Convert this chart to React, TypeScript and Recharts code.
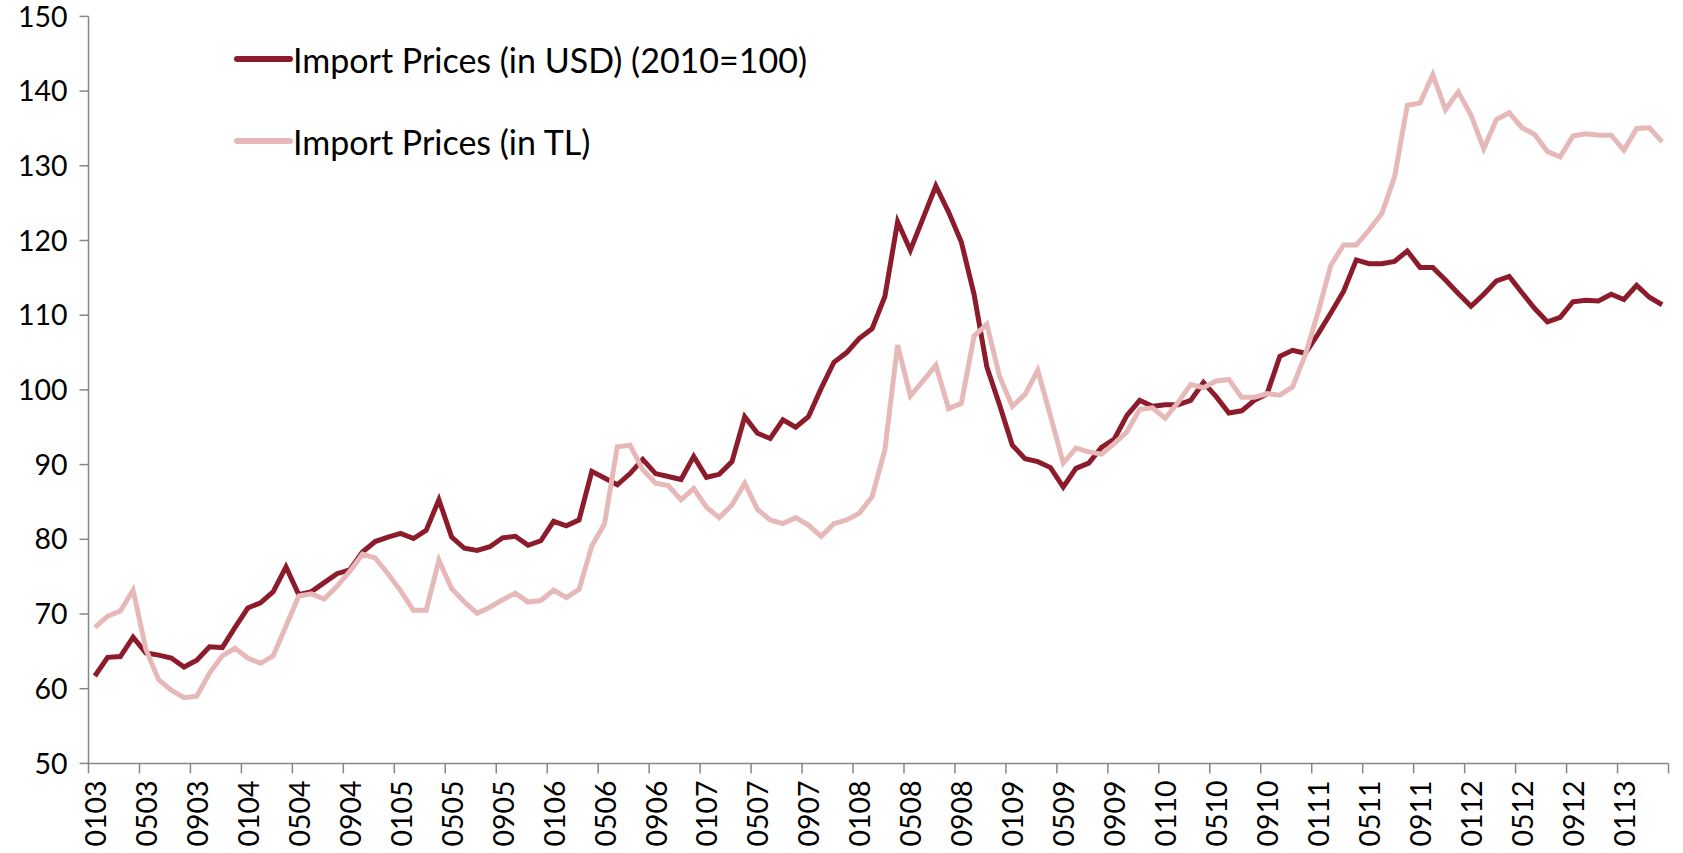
import React from "react";
import { LineChart, Line, XAxis, YAxis, Legend } from "recharts";

// month labels MMYY, Jan 2003 .. Apr 2013
const years = ["03", "04", "05", "06", "07", "08", "09", "10", "11", "12", "13"];
const months = ["01", "02", "03", "04", "05", "06", "07", "08", "09", "10", "11", "12"];
const categories: string[] = [];
years.forEach((y) => months.forEach((m) => categories.push(m + y)));
categories.length = 124;

const usdPrices = [
  61.7, 64.2, 64.3, 66.9, 64.8, 64.5, 64.1, 62.9, 63.8, 65.6, 65.5, 68.2,
  70.8, 71.5, 73.0, 76.3, 72.6, 73.0, 74.2, 75.4, 75.9, 78.3, 79.7, 80.3,
  80.8, 80.1, 81.2, 85.3, 80.3, 78.8, 78.5, 79.0, 80.2, 80.4, 79.2, 79.8,
  82.4, 81.8, 82.6, 89.1, 88.2, 87.3, 88.8, 90.7, 88.8, 88.4, 88.0, 91.1,
  88.3, 88.7, 90.4, 96.4, 94.2, 93.5, 96.0, 95.0, 96.4, 100.2, 103.7, 105.0,
  106.9, 108.2, 112.5, 122.5, 118.7, 123.0, 127.3, 123.8, 119.8, 112.8, 103.1, 98.0,
  92.6, 90.8, 90.4, 89.6, 87.0, 89.5, 90.2, 92.3, 93.4, 96.6, 98.6, 97.8,
  98.0, 98.0, 98.6, 101.0, 99.1, 96.9, 97.2, 98.6, 99.5, 104.5, 105.3, 104.9,
  107.5, 110.3, 113.2, 117.4, 116.9, 116.9, 117.2, 118.6, 116.4, 116.4, 114.7, 112.9,
  111.2, 112.8, 114.6, 115.2, 113.0, 110.9, 109.1, 109.7, 111.8, 112.0, 111.9, 112.8,
  112.1, 114.0, 112.4, 111.4,
];

const tlPrices = [
  68.2, 69.7, 70.4, 73.2, 65.3, 61.2, 59.8, 58.8, 59.0, 62.1, 64.4, 65.4,
  64.1, 63.4, 64.4, 68.4, 72.4, 72.7, 72.0, 73.7, 75.7, 78.0, 77.5, 75.4,
  73.1, 70.5, 70.5, 77.2, 73.4, 71.6, 70.1, 70.9, 71.9, 72.8, 71.6, 71.8,
  73.2, 72.2, 73.3, 79.1, 82.1, 92.4, 92.6, 89.3, 87.5, 87.2, 85.3, 86.8,
  84.3, 82.9, 84.6, 87.5, 84.0, 82.6, 82.1, 82.9, 81.9, 80.4, 82.1, 82.6,
  83.5, 85.7, 92.0, 106.0, 99.2, 101.2, 103.3, 97.5, 98.2, 107.2, 108.8, 101.8,
  97.8, 99.4, 102.6, 96.5, 90.2, 92.2, 91.7, 91.4, 92.8, 94.4, 97.4, 97.6,
  96.2, 98.3, 100.7, 100.3, 101.2, 101.4, 99.0, 99.0, 99.5, 99.3, 100.4, 104.7,
  110.4, 116.7, 119.4, 119.4, 121.4, 123.6, 128.5, 138.1, 138.4, 142.2, 137.5, 139.9,
  136.8, 132.3, 136.2, 137.1, 135.1, 134.2, 131.9, 131.2, 134.0, 134.3, 134.1, 134.1,
  132.1, 135.0, 135.1, 133.2,
];

const yTicks = [50, 60, 70, 80, 90, 100, 110, 120, 130, 140, 150];

const seriesNames = ["Import Prices (in USD) (2010=100)", "Import Prices (in TL)"];

const data = categories.map((label, i) => ({
  label,
  usd: usdPrices[i],
  tl: tlPrices[i],
}));

const W = 1683;
const H = 853;
const PLOT_LEFT = 88.5;
const PLOT_RIGHT = 1668.5;
const PLOT_TOP = 16.4;
const PLOT_BOTTOM = 763.4;
const STEP = (PLOT_RIGHT - PLOT_LEFT) / categories.length;
const AXIS = "#868686";
const FONT = "Lato, 'Open Sans', sans-serif";
const TICK_FONT = 28.5;
const LEGEND_FONT = 34;
const X_TICK_SIZE = 10;
const X_TICK_MARGIN = 7;

const USD_COLOR = "#8c1c2c";
const TL_COLOR = "#e6b9b8";

const XTick = (props: any) => {
  const { x, y, payload } = props;
  const idx = categories.indexOf(payload.value);
  const axisY = y - X_TICK_SIZE - X_TICK_MARGIN;
  const tx = x - STEP / 2;
  const isLast = idx === categories.length - 4;
  return (
    <g>
      <line x1={tx} x2={tx} y1={axisY} y2={axisY + X_TICK_SIZE} stroke={AXIS} strokeWidth={1.5} />
      {isLast && (
        <line
          x1={tx + 4 * STEP}
          x2={tx + 4 * STEP}
          y1={axisY}
          y2={axisY + X_TICK_SIZE}
          stroke={AXIS}
          strokeWidth={1.5}
        />
      )}
      <text
        x={x}
        y={y}
        transform={`rotate(-90, ${x}, ${y})`}
        textAnchor="end"
        dominantBaseline="central"
        fontSize={TICK_FONT}
        fontFamily={FONT}
        fill="#000"
      >
        {payload.value}
      </text>
    </g>
  );
};

const renderLegend = (props: any) => {
  const items = [...(props.payload || [])].sort(
    (a: any, b: any) => seriesNames.indexOf(a.value) - seriesNames.indexOf(b.value)
  );
  return (
    <div style={{ fontFamily: FONT, fontSize: LEGEND_FONT, color: "#000" }}>
      {items.map((p: any) => (
        <div key={p.value} style={{ display: "flex", alignItems: "center", height: 82 }}>
          <svg width={59} height={8} style={{ display: "block" }}>
            <line x1={3} y1={4} x2={56} y2={4} stroke={p.color} strokeWidth={6} strokeLinecap="round" />
          </svg>
          <span style={{ whiteSpace: "nowrap" }}>{p.value}</span>
        </div>
      ))}
    </div>
  );
};

export default function App() {
  return (
    <div style={{ position: "absolute", left: 0, top: 0, width: W, height: H, background: "#fff" }}>
      <LineChart
        width={W}
        height={H}
        data={data}
        margin={{ top: PLOT_TOP, right: W - PLOT_RIGHT, left: 0, bottom: 0 }}
      >
        <XAxis
          dataKey="label"
          interval={3}
          padding={{ left: STEP / 2, right: STEP / 2 }}
          height={H - PLOT_BOTTOM}
          axisLine={{ stroke: AXIS, strokeWidth: 1.5 }}
          tickLine={false}
          tickSize={X_TICK_SIZE}
          tickMargin={X_TICK_MARGIN}
          tick={<XTick />}
        />
        <YAxis
          domain={[50, 150]}
          ticks={yTicks}
          width={PLOT_LEFT}
          axisLine={{ stroke: AXIS, strokeWidth: 1.5 }}
          tickLine={{ stroke: AXIS, strokeWidth: 1.5 }}
          tickSize={9}
          tickMargin={12}
          tick={{ fill: "#000", fontSize: TICK_FONT, fontFamily: FONT }}
          allowDecimals={false}
        />
        <Legend
          layout="vertical"
          align="center"
          verticalAlign="middle"
          content={renderLegend}
          wrapperStyle={{ position: "absolute", left: 234, top: 18, width: "auto" }}
        />
        <Line
          type="linear"
          dataKey="usd"
          name={seriesNames[0]}
          stroke={USD_COLOR}
          strokeWidth={5}
          dot={false}
          activeDot={false}
          isAnimationActive={false}
        />
        <Line
          type="linear"
          dataKey="tl"
          name={seriesNames[1]}
          stroke={TL_COLOR}
          strokeWidth={5}
          dot={false}
          activeDot={false}
          isAnimationActive={false}
        />
      </LineChart>
    </div>
  );
}
